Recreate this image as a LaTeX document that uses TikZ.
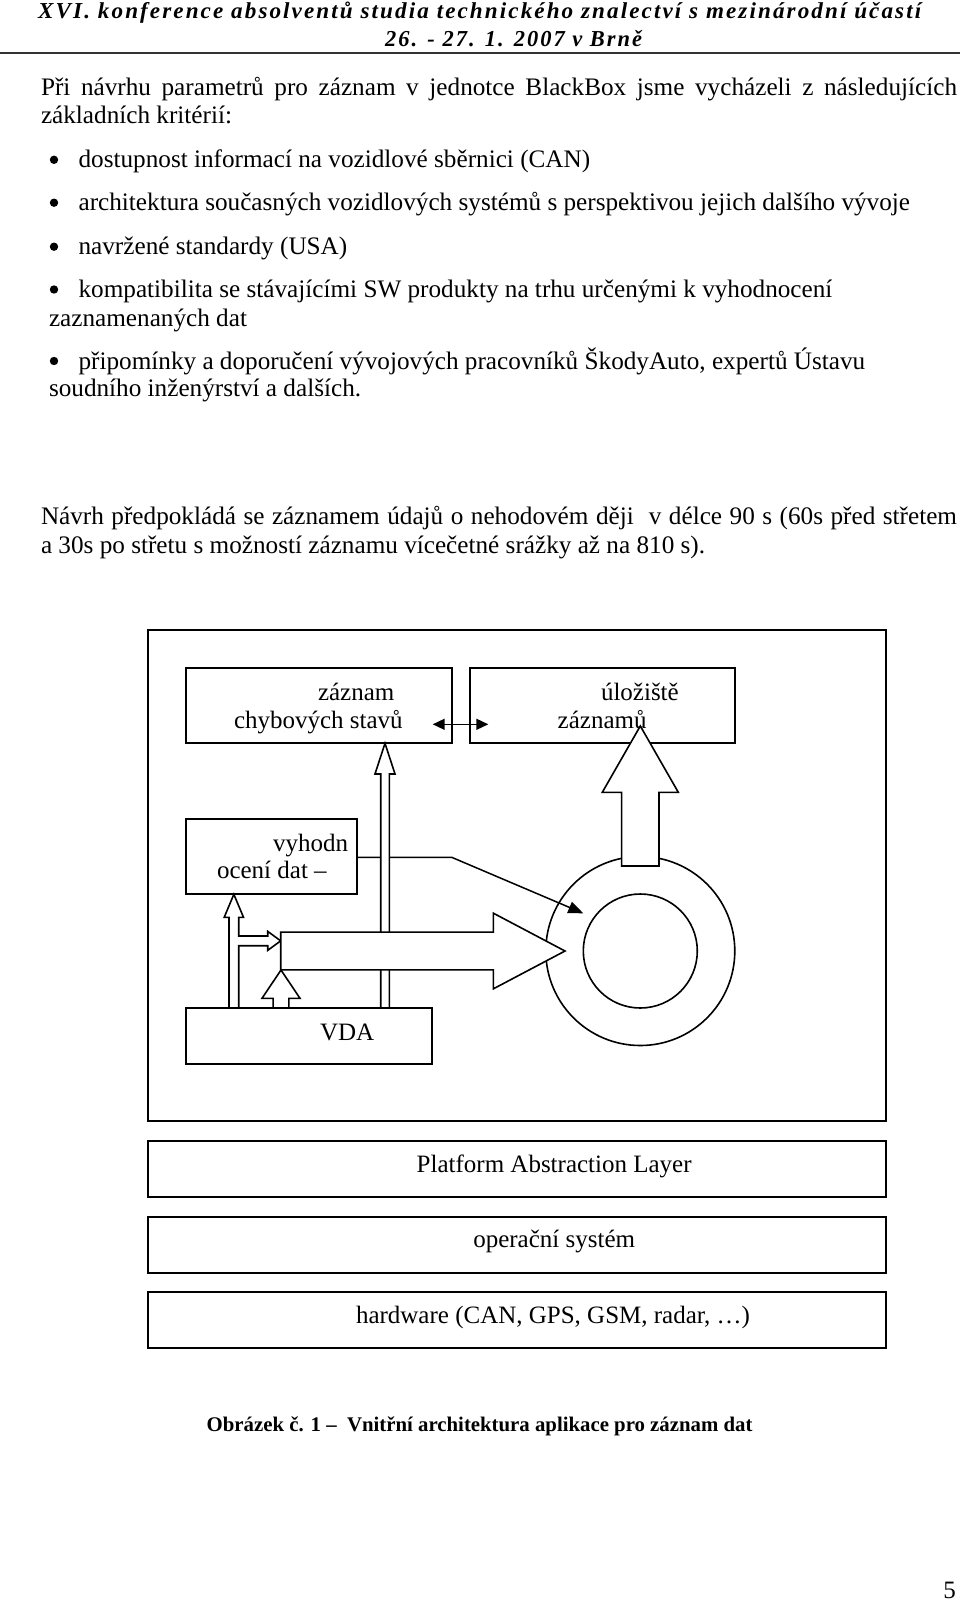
\documentclass[tikz,border=0pt]{standalone}
\usepackage{fontspec}
\setmainfont{Liberation Serif}
\newfontfamily\headfont[LetterSpace=9]{Liberation Serif}
\usetikzlibrary{arrows.meta}
\tikzset{
  txt/.style={anchor=base west, inner sep=0pt, outer sep=0pt, font=\fontsize{25}{28.6}\selectfont},
  btxt/.style={anchor=base west, inner sep=0pt, outer sep=0pt, font=\fontsize{25.2}{28.6}\selectfont},
  bul/.style={circle, fill=black, inner sep=0pt, outer sep=0pt, minimum size=8.4pt},
  boxn/.style={draw, line width=1.8pt, inner sep=0pt, outer sep=0pt, anchor=north west},
  ringn/.style={draw, circle, line width=1.6pt, inner sep=0pt, outer sep=0pt},
  harrow/.style={draw, line width=1.6pt, fill=white, line join=miter},
  thinarrow/.style={line width=1.5pt, -{Triangle[length=15pt,width=12pt]}},
  dblarrow/.style={line width=1.5pt, {Triangle[length=12pt,width=11pt]}-{Triangle[length=12pt,width=11pt]}},
}
\begin{document}
\begin{tikzpicture}[x=1pt,y=-1pt]
\useasboundingbox (0,0) rectangle (960,1601);
\fill[white] (0,0) rectangle (960,1601);

% header
\node[anchor=base west, inner sep=0pt] (h1) at (38,18.5)
  {\resizebox{883pt}{\height}{\fontsize{22.8}{26}\headfont\bfseries\itshape XVI. konference absolventů studia technického znalectví s mezinárodní účastí}};
\node[anchor=base west, inner sep=0pt] (h2) at (385,46)
  {\resizebox{257pt}{\height}{\fontsize{22.8}{26}\headfont\bfseries\itshape 26. - 27. 1. 2007 v Brně}};
\coordinate (r1) at (0,53);
\coordinate (r2) at (960,53);
\draw[line width=1.8pt, black!80] (r1) -- (r2);

% body text
\node[btxt] (p1a) at (41,95) {\makebox[916pt][s]{Při návrhu parametrů pro záznam v~jednotce BlackBox jsme vycházeli z~následujících}};
\node[btxt] (p1b) at (41,123.5) {základních kritérií:};
\node[bul] (b1) at (54,159.8) {};
\node[btxt] (t1) at (78.6,167.8) {dostupnost informací na vozidlové sběrnici (CAN)};
\node[bul] (b2) at (54,202.7) {};
\node[btxt] (t2) at (78.6,210.7) {architektura současných vozidlových systémů s perspektivou jejich dalšího vývoje};
\node[bul] (b3) at (54,246.7) {};
\node[btxt] (t3) at (78.6,254.7) {navržené standardy (USA)};
\node[bul] (b4) at (54,289.5) {};
\node[btxt] (t4a) at (78.6,297.5) {kompatibilita se stávajícími SW produkty na trhu určenými k vyhodnocení};
\node[btxt] (t4b) at (49,326) {zaznamenaných dat};
\node[bul] (b5) at (54,361) {};
\node[btxt] (t5a) at (78.6,369) {připomínky a doporučení vývojových pracovníků ŠkodyAuto, expertů Ústavu};
\node[btxt] (t5b) at (49,396.6) {soudního inženýrství a dalších.};
\node[btxt] (p2a) at (41,524.3) {\makebox[916pt][s]{Návrh předpokládá se záznamem údajů o nehodovém ději~ v délce 90 s (60s před střetem}};
\node[btxt] (p2b) at (41,553) {a 30s po střetu s možností záznamu vícečetné srážky až na 810 s).};

% frames
\node[boxn, minimum width=737.7pt, minimum height=490.7pt] (outer) at (148.3,630) {};
\node[boxn, minimum width=738pt, minimum height=56.3pt] (pal) at (148.3,1141) {};
\node[boxn, minimum width=738pt, minimum height=56pt] (os) at (148.3,1216.7) {};
\node[boxn, minimum width=738pt, minimum height=56pt] (hw) at (148.3,1292.3) {};

% ring
\node[ringn, minimum size=189pt] (ring) at (640.3,951) {};
\node[ringn, minimum size=114pt] (hole) at (640.3,951) {};

% upper boxes
\node[boxn, minimum width=265.7pt, minimum height=75.6pt] (zaz) at (186,667.7) {};
\node[boxn, minimum width=265pt, minimum height=75.6pt] (ulo) at (470,667.7) {};

% double arrow between zaz and ulo
\coordinate (da1) at (432.7,724.3);
\coordinate (da2) at (488.3,724.3);
\draw[dblarrow] (da1) -- (da2);

% thin arrow from vyhodnoceni into the ring
\coordinate (tb) at (451.7,857.3);
\coordinate (tt) at (583.3,913.3);
\draw[thinarrow] (356.7,857.3) -- (tb) -- (tt);

% hollow shaft VDA -> zaz
\draw[harrow] (380.7,1008) -- (380.7,774) -- (375,774) -- (385,743.3) -- (395,774) -- (389.3,774) -- (389.3,1008);

% hollow arrow VDA -> vyh with branch to the big arrow
\draw[harrow] (229,1008) -- (229,917.3) -- (224.2,917.3) -- (233.85,894.3) -- (243.5,917.3) -- (238.7,917.3)
  -- (238.7,936) -- (267.7,936) -- (267.7,931.35) -- (280.7,940.85) -- (267.7,950.35) -- (267.7,945.7)
  -- (238.7,945.7) -- (238.7,1008);

% big arrow into the ring
\draw[harrow] (280.7,932.15) -- (493.3,932.15) -- (493.3,913.15) -- (565,951) -- (493.3,988.85) -- (493.3,969.85) -- (280.7,969.85) -- cycle;

% small up arrow VDA -> big arrow
\draw[harrow] (273.15,1008) -- (273.15,998.3) -- (262,998.3) -- (281,970) -- (300,998.3) -- (288.85,998.3) -- (288.85,1008);

% big up arrow ring -> ulo
\draw[harrow] (621.65,866) -- (621.65,792.3) -- (602.3,792.3) -- (640.3,726) -- (678.3,792.3) -- (658.95,792.3) -- (658.95,866) -- cycle;

% lower left boxes
\node[boxn, minimum width=170.7pt, minimum height=75.3pt] (vyh) at (186,819) {};
\node[boxn, minimum width=246.3pt, minimum height=56.3pt] (vda) at (186,1008) {};

% diagram texts
\node[txt] (l1) at (318,700) {záznam};
\node[txt] (l2) at (234,728) {chybových stavů};
\node[txt] (l3) at (601,700) {úložiště};
\node[txt] (l4) at (557.7,728) {záznamů};
\node[txt] (l5) at (273,851) {vyhodn};
\node[txt] (l6) at (217,878) {ocení dat –};
\node[txt] (l7) at (320,1040) {VDA};
\node[txt] (l8) at (416.7,1172.3) {Platform Abstraction Layer};
\node[txt] (l9) at (473.3,1247.3) {operační systém};
\node[txt] (l10) at (356,1323.3) {hardware (CAN, GPS, GSM, radar, …)};

% caption and page number
\node[anchor=base west, inner sep=0pt, font=\fontsize{20.8}{24}\selectfont\bfseries] (cap) at (206.5,1431) {Obrázek č. 1 –~ Vnitřní architektura aplikace pro záznam dat};
\node[anchor=base east, inner sep=0pt, font=\fontsize{25}{28.6}\selectfont] (pg) at (956,1598) {5};
\end{tikzpicture}
\end{document}
